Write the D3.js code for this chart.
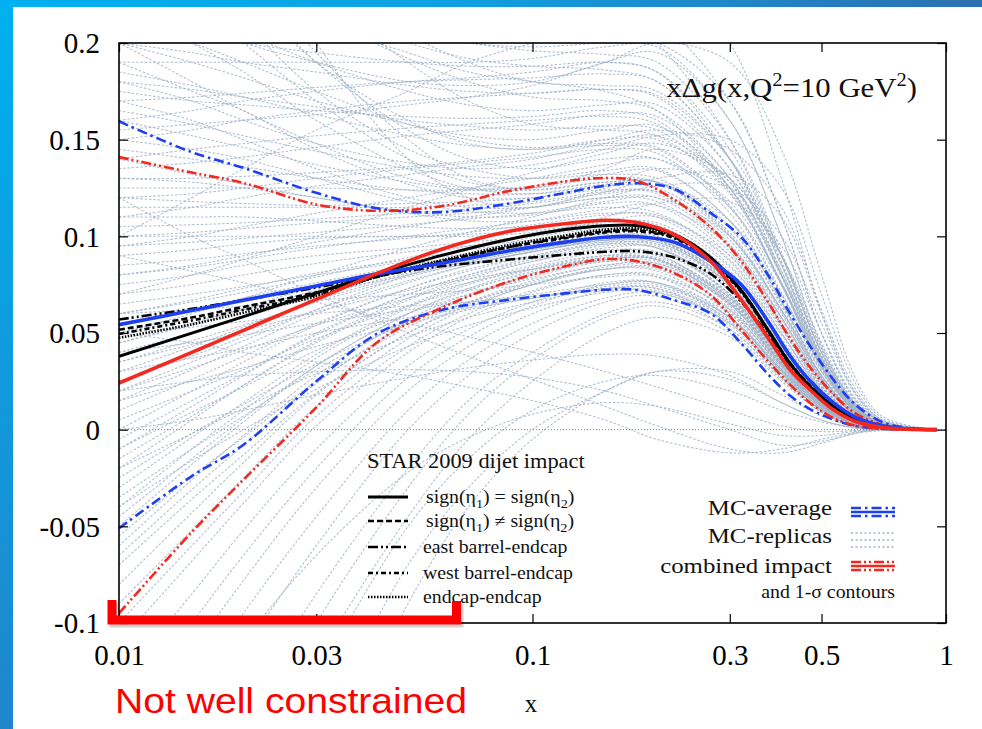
<!DOCTYPE html>
<html><head><meta charset="utf-8">
<script src="https://cdn.jsdelivr.net/npm/d3@7"></script>
<style>body{margin:0;background:#fff;overflow:hidden}svg{display:block}</style>
</head><body>
<svg id="c" width="982" height="729"></svg>
<script>
// ---------------- DATA ----------------
const xGrid = [0.01, 0.015, 0.02, 0.03, 0.042, 0.06, 0.088, 0.12, 0.15, 0.18, 0.22, 0.27, 0.32, 0.37, 0.42, 0.47, 0.53, 0.6, 0.7, 0.8, 0.95];
const combinedImpact = [0.0241, 0.040, 0.0514, 0.0674, 0.0807, 0.0932, 0.1026, 0.1065, 0.1083, 0.107, 0.101, 0.087, 0.067, 0.048, 0.031, 0.0205, 0.0108, 0.0045, 0.0012, 0.0003, 0];
const combinedUpper  = [0.141, 0.133, 0.1276, 0.1165, 0.1132, 0.1155, 0.1235, 0.1284, 0.1302, 0.1285, 0.119, 0.1045, 0.087, 0.0665, 0.047, 0.032, 0.019, 0.0088, 0.0025, 0.0006, 0];
const combinedLower  = [-0.095, -0.053, -0.0259, 0.0115, 0.045, 0.0628, 0.0767, 0.0845, 0.0882, 0.087, 0.081, 0.0695, 0.0515, 0.0357, 0.0232, 0.0137, 0.0064, 0.0022, 0.0005, 0.0001, 0];
const mcAverage      = [0.0543, 0.0616, 0.0669, 0.0743, 0.0805, 0.086, 0.0925, 0.097, 0.0995, 0.0998, 0.097, 0.087, 0.075, 0.0565, 0.038, 0.025, 0.0145, 0.0068, 0.002, 0.0005, 0];
const mcUpper        = [0.1595, 0.1435, 0.1354, 0.1225, 0.1145, 0.1125, 0.117, 0.1225, 0.1262, 0.1275, 0.1245, 0.112, 0.0995, 0.0805, 0.060, 0.043, 0.0268, 0.0135, 0.004, 0.001, 0];
const mcLower        = [-0.051, -0.024, -0.0078, 0.025, 0.0495, 0.0618, 0.0672, 0.0705, 0.0724, 0.0722, 0.067, 0.060, 0.0445, 0.029, 0.0175, 0.0105, 0.0055, 0.002, 0.0005, 0.0001, 0];
const sameSign       = [0.0379, 0.0499, 0.0585, 0.0707, 0.0805, 0.090, 0.0985, 0.1035, 0.1055, 0.1055, 0.101, 0.089, 0.072, 0.052, 0.034, 0.022, 0.0125, 0.0055, 0.0015, 0.0004, 0];
const oppositeSign   = [0.0517, 0.058, 0.0635, 0.071, 0.079, 0.0865, 0.0945, 0.0995, 0.1025, 0.103, 0.0995, 0.088, 0.0715, 0.052, 0.0345, 0.0225, 0.0128, 0.0057, 0.0016, 0.0004, 0];
const eastBarrelEndcap = [0.057, 0.0625, 0.067, 0.0735, 0.0795, 0.0845, 0.088, 0.0905, 0.092, 0.0922, 0.089, 0.0805, 0.066, 0.0495, 0.0335, 0.022, 0.0125, 0.0055, 0.0015, 0.0004, 0];
const westBarrelEndcap = [0.0495, 0.0565, 0.062, 0.0698, 0.0792, 0.087, 0.0945, 0.099, 0.102, 0.1025, 0.099, 0.0875, 0.071, 0.0515, 0.034, 0.0222, 0.0126, 0.0056, 0.0015, 0.0004, 0];
const endcapEndcap   = [0.0475, 0.0545, 0.0605, 0.069, 0.079, 0.0875, 0.0955, 0.1005, 0.1035, 0.104, 0.1, 0.0885, 0.072, 0.052, 0.0343, 0.0224, 0.0127, 0.0056, 0.0015, 0.0004, 0];

const replicaX = [0.01, 0.015, 0.02, 0.03, 0.05, 0.07, 0.1, 0.15, 0.2, 0.3, 0.4, 0.5, 0.6, 0.7, 0.95];
const replicas = [
  [0.30, 0.26, 0.23, 0.19, 0.155, 0.14, 0.135, 0.14, 0.14, 0.115, 0.075, 0.035, 0.012, 0.003, 0],
  [0.26, 0.23, 0.21, 0.175, 0.145, 0.135, 0.13, 0.132, 0.13, 0.105, 0.065, 0.03, 0.01, 0.002, 0],
  [0.22, 0.20, 0.185, 0.16, 0.135, 0.125, 0.122, 0.126, 0.125, 0.1, 0.062, 0.028, 0.009, 0.002, 0],
  [0.19, 0.175, 0.165, 0.145, 0.127, 0.12, 0.12, 0.124, 0.122, 0.095, 0.058, 0.025, 0.008, 0.002, 0],
  [0.17, 0.16, 0.15, 0.135, 0.12, 0.115, 0.115, 0.12, 0.118, 0.092, 0.054, 0.022, 0.007, 0.0015, 0],
  [0.35, 0.30, 0.26, 0.20, 0.14, 0.12, 0.115, 0.125, 0.135, 0.125, 0.09, 0.045, 0.015, 0.004, 0],
  [0.24, 0.22, 0.20, 0.17, 0.14, 0.128, 0.125, 0.135, 0.145, 0.13, 0.09, 0.042, 0.014, 0.003, 0],
  [0.15, 0.145, 0.14, 0.13, 0.118, 0.113, 0.112, 0.115, 0.112, 0.088, 0.052, 0.021, 0.006, 0.0015, 0],
  [0.13, 0.128, 0.125, 0.12, 0.112, 0.108, 0.108, 0.112, 0.11, 0.085, 0.05, 0.02, 0.006, 0.001, 0],
  [0.11, 0.11, 0.11, 0.108, 0.105, 0.104, 0.105, 0.108, 0.106, 0.082, 0.047, 0.019, 0.005, 0.001, 0],
  [0.09, 0.093, 0.096, 0.099, 0.1, 0.101, 0.103, 0.106, 0.104, 0.08, 0.045, 0.018, 0.005, 0.001, 0],
  [0.075, 0.08, 0.085, 0.09, 0.094, 0.097, 0.1, 0.104, 0.102, 0.078, 0.043, 0.017, 0.005, 0.001, 0],
  [0.06, 0.067, 0.073, 0.081, 0.088, 0.093, 0.097, 0.101, 0.099, 0.075, 0.041, 0.016, 0.004, 0.001, 0],
  [0.045, 0.055, 0.063, 0.074, 0.085, 0.09, 0.095, 0.1, 0.098, 0.074, 0.04, 0.016, 0.004, 0.001, 0],
  [0.03, 0.043, 0.053, 0.067, 0.08, 0.087, 0.093, 0.098, 0.096, 0.072, 0.039, 0.015, 0.004, 0.001, 0],
  [0.015, 0.031, 0.043, 0.06, 0.076, 0.085, 0.092, 0.097, 0.095, 0.07, 0.037, 0.014, 0.004, 0.001, 0],
  [0.0, 0.02, 0.035, 0.054, 0.073, 0.083, 0.09, 0.096, 0.094, 0.069, 0.036, 0.014, 0.004, 0.001, 0],
  [-0.02, 0.005, 0.023, 0.046, 0.068, 0.079, 0.087, 0.093, 0.091, 0.066, 0.034, 0.013, 0.003, 0.001, 0],
  [-0.04, -0.01, 0.01, 0.037, 0.063, 0.075, 0.084, 0.09, 0.088, 0.064, 0.033, 0.012, 0.003, 0.0005, 0],
  [-0.06, -0.026, -0.003, 0.028, 0.057, 0.07, 0.08, 0.087, 0.085, 0.062, 0.032, 0.012, 0.003, 0.0005, 0],
  [-0.08, -0.043, -0.017, 0.018, 0.05, 0.065, 0.076, 0.083, 0.082, 0.06, 0.031, 0.011, 0.003, 0.0005, 0],
  [-0.10, -0.06, -0.032, 0.007, 0.043, 0.06, 0.072, 0.08, 0.079, 0.058, 0.03, 0.011, 0.003, 0.0005, 0],
  [-0.13, -0.085, -0.052, -0.01, 0.033, 0.052, 0.066, 0.076, 0.076, 0.056, 0.029, 0.01, 0.003, 0.0005, 0],
  [-0.17, -0.115, -0.078, -0.03, 0.02, 0.043, 0.06, 0.072, 0.073, 0.054, 0.028, 0.01, 0.002, 0.0005, 0],
  [-0.22, -0.16, -0.115, -0.06, 0.0, 0.028, 0.05, 0.066, 0.069, 0.052, 0.027, 0.01, 0.002, 0.0005, 0],
  [-0.30, -0.22, -0.17, -0.10, -0.03, 0.008, 0.036, 0.058, 0.064, 0.05, 0.026, 0.009, 0.002, 0.0005, 0],
  [-0.40, -0.30, -0.24, -0.16, -0.07, -0.03, 0.0, 0.02, 0.03, 0.03, 0.018, 0.007, 0.002, 0, 0],
  [-0.35, -0.27, -0.21, -0.13, -0.05, -0.015, 0.01, 0.025, 0.028, 0.02, 0.01, 0.004, 0.001, 0, 0],
  [0.05, 0.045, 0.04, 0.035, 0.028, 0.022, 0.015, 0.005, -0.005, -0.012, -0.01, -0.005, -0.0015, 0, 0],
  [0.12, 0.10, 0.088, 0.07, 0.05, 0.038, 0.026, 0.012, 0.002, -0.01, -0.012, -0.007, -0.002, -0.0005, 0],
  [0.02, 0.025, 0.028, 0.03, 0.031, 0.03, 0.027, 0.02, 0.012, 0.0, -0.008, -0.006, -0.002, 0, 0],
  [0.20, 0.21, 0.22, 0.23, 0.235, 0.235, 0.23, 0.22, 0.20, 0.15, 0.09, 0.04, 0.013, 0.003, 0],
  [0.10, 0.12, 0.135, 0.155, 0.175, 0.19, 0.20, 0.21, 0.21, 0.17, 0.11, 0.05, 0.016, 0.004, 0],
  [0.40, 0.36, 0.33, 0.29, 0.25, 0.235, 0.23, 0.235, 0.24, 0.20, 0.13, 0.06, 0.02, 0.005, 0],
  [0.16, 0.165, 0.17, 0.175, 0.18, 0.182, 0.185, 0.19, 0.185, 0.14, 0.08, 0.035, 0.011, 0.003, 0],
  [0.25, 0.235, 0.225, 0.21, 0.195, 0.185, 0.18, 0.175, 0.165, 0.125, 0.075, 0.032, 0.01, 0.002, 0],
  [0.20, 0.18, 0.165, 0.148, 0.13, 0.125, 0.125, 0.13, 0.128, 0.10, 0.06, 0.026, 0.008, 0.002, 0],
  [0.14, 0.132, 0.127, 0.12, 0.113, 0.11, 0.111, 0.117, 0.116, 0.09, 0.053, 0.021, 0.006, 0.0015, 0],
  [0.10, 0.10, 0.10, 0.10, 0.10, 0.10, 0.102, 0.107, 0.107, 0.084, 0.049, 0.02, 0.006, 0.001, 0],
  [0.07, 0.075, 0.08, 0.086, 0.092, 0.095, 0.098, 0.103, 0.103, 0.08, 0.046, 0.018, 0.005, 0.001, 0],
  [-0.01, 0.012, 0.028, 0.05, 0.07, 0.08, 0.088, 0.095, 0.094, 0.07, 0.037, 0.014, 0.004, 0.001, 0],
  [-0.05, -0.018, 0.004, 0.033, 0.06, 0.072, 0.082, 0.089, 0.088, 0.065, 0.034, 0.013, 0.003, 0.0005, 0],
  [0.28, 0.25, 0.225, 0.19, 0.16, 0.148, 0.145, 0.15, 0.15, 0.125, 0.08, 0.038, 0.012, 0.003, 0],
  [0.32, 0.27, 0.24, 0.195, 0.15, 0.13, 0.124, 0.128, 0.128, 0.108, 0.07, 0.033, 0.011, 0.003, 0],
  [0.18, 0.17, 0.16, 0.148, 0.138, 0.135, 0.137, 0.145, 0.152, 0.15, 0.125, 0.07, 0.025, 0.006, 0],
  [0.08, 0.085, 0.09, 0.097, 0.105, 0.11, 0.115, 0.123, 0.13, 0.132, 0.11, 0.06, 0.02, 0.005, 0],
  [0.02, 0.035, 0.046, 0.062, 0.08, 0.09, 0.10, 0.11, 0.117, 0.118, 0.095, 0.05, 0.017, 0.004, 0],
  [0.22, 0.21, 0.20, 0.19, 0.18, 0.178, 0.18, 0.19, 0.20, 0.19, 0.145, 0.08, 0.028, 0.007, 0],
  [0.065, 0.07, 0.074, 0.08, 0.087, 0.091, 0.095, 0.099, 0.098, 0.077, 0.043, 0.017, 0.005, 0.001, 0],
  [0.055, 0.062, 0.068, 0.076, 0.085, 0.09, 0.095, 0.1, 0.1, 0.078, 0.044, 0.018, 0.005, 0.001, 0],
  [0.04, 0.05, 0.058, 0.069, 0.081, 0.087, 0.093, 0.099, 0.099, 0.077, 0.043, 0.017, 0.005, 0.001, 0],
  [0.035, 0.046, 0.054, 0.066, 0.079, 0.086, 0.092, 0.098, 0.097, 0.075, 0.041, 0.016, 0.004, 0.001, 0],
  [0.025, 0.038, 0.048, 0.062, 0.077, 0.085, 0.092, 0.098, 0.098, 0.076, 0.042, 0.016, 0.004, 0.001, 0],
  [0.01, 0.026, 0.038, 0.055, 0.073, 0.082, 0.09, 0.097, 0.097, 0.075, 0.041, 0.016, 0.004, 0.001, 0],
  [-0.005, 0.015, 0.029, 0.049, 0.07, 0.08, 0.089, 0.096, 0.096, 0.074, 0.04, 0.015, 0.004, 0.001, 0],
  [-0.015, 0.007, 0.023, 0.045, 0.067, 0.078, 0.087, 0.094, 0.094, 0.072, 0.039, 0.015, 0.004, 0.001, 0],
  [-0.03, -0.004, 0.014, 0.039, 0.064, 0.076, 0.085, 0.092, 0.092, 0.07, 0.037, 0.014, 0.004, 0.001, 0],
  [-0.045, -0.015, 0.006, 0.033, 0.06, 0.073, 0.083, 0.09, 0.09, 0.068, 0.036, 0.014, 0.003, 0.001, 0],
  [-0.065, -0.031, -0.008, 0.024, 0.055, 0.069, 0.08, 0.088, 0.088, 0.067, 0.035, 0.013, 0.003, 0.001, 0],
  [0.045, 0.054, 0.062, 0.072, 0.084, 0.09, 0.096, 0.102, 0.103, 0.081, 0.046, 0.018, 0.005, 0.001, 0],
  [0.145, 0.14, 0.136, 0.13, 0.124, 0.122, 0.122, 0.127, 0.128, 0.102, 0.062, 0.026, 0.008, 0.002, 0],
  [0.16, 0.152, 0.146, 0.137, 0.128, 0.124, 0.124, 0.128, 0.128, 0.101, 0.061, 0.026, 0.008, 0.002, 0],
  [0.185, 0.178, 0.172, 0.163, 0.152, 0.147, 0.145, 0.147, 0.145, 0.115, 0.07, 0.03, 0.009, 0.002, 0],
  [0.21, 0.20, 0.19, 0.175, 0.158, 0.15, 0.146, 0.148, 0.146, 0.116, 0.071, 0.031, 0.01, 0.002, 0],
  [0.125, 0.125, 0.125, 0.125, 0.124, 0.124, 0.126, 0.132, 0.134, 0.108, 0.066, 0.028, 0.009, 0.002, 0],
  [0.12, 0.122, 0.125, 0.13, 0.135, 0.138, 0.141, 0.145, 0.143, 0.112, 0.067, 0.028, 0.009, 0.002, 0],
  [0.175, 0.17, 0.168, 0.165, 0.162, 0.161, 0.162, 0.165, 0.16, 0.125, 0.075, 0.032, 0.01, 0.002, 0],
  [0.23, 0.215, 0.205, 0.19, 0.175, 0.168, 0.165, 0.168, 0.168, 0.135, 0.085, 0.037, 0.012, 0.003, 0],
  [0.27, 0.25, 0.235, 0.215, 0.192, 0.18, 0.172, 0.17, 0.165, 0.13, 0.08, 0.035, 0.011, 0.003, 0],
  [0.14, 0.145, 0.148, 0.152, 0.156, 0.158, 0.16, 0.162, 0.158, 0.125, 0.076, 0.033, 0.01, 0.002, 0],
  [0.20, 0.195, 0.19, 0.185, 0.178, 0.175, 0.174, 0.176, 0.173, 0.14, 0.09, 0.04, 0.013, 0.003, 0],
  [0.11, 0.115, 0.12, 0.126, 0.132, 0.136, 0.14, 0.148, 0.152, 0.128, 0.082, 0.036, 0.011, 0.003, 0],
  [0.095, 0.10, 0.105, 0.112, 0.12, 0.125, 0.13, 0.137, 0.14, 0.118, 0.076, 0.033, 0.01, 0.002, 0],
  [0.30, 0.275, 0.255, 0.225, 0.19, 0.17, 0.158, 0.155, 0.152, 0.122, 0.076, 0.033, 0.01, 0.002, 0],
  [0.155, 0.158, 0.16, 0.163, 0.168, 0.172, 0.178, 0.19, 0.195, 0.16, 0.10, 0.044, 0.014, 0.003, 0],
  [0.19, 0.19, 0.19, 0.19, 0.19, 0.19, 0.192, 0.198, 0.198, 0.16, 0.10, 0.043, 0.014, 0.003, 0],
  [0.085, 0.088, 0.091, 0.095, 0.099, 0.102, 0.106, 0.111, 0.111, 0.087, 0.05, 0.02, 0.006, 0.001, 0],
  [0.10, 0.102, 0.104, 0.107, 0.11, 0.112, 0.115, 0.12, 0.12, 0.094, 0.055, 0.022, 0.007, 0.0015, 0],
  [0.115, 0.115, 0.115, 0.115, 0.115, 0.116, 0.118, 0.123, 0.123, 0.096, 0.057, 0.023, 0.007, 0.0015, 0],
  [0.06, 0.062, 0.064, 0.067, 0.07, 0.072, 0.075, 0.079, 0.079, 0.062, 0.034, 0.013, 0.004, 0.001, 0],
  [0.03, 0.037, 0.042, 0.05, 0.058, 0.063, 0.068, 0.073, 0.073, 0.057, 0.031, 0.012, 0.003, 0.0005, 0],
  [0.05, 0.053, 0.056, 0.06, 0.064, 0.066, 0.069, 0.072, 0.071, 0.055, 0.029, 0.011, 0.003, 0.0005, 0],
  [-0.09, -0.052, -0.025, 0.012, 0.047, 0.063, 0.075, 0.083, 0.083, 0.063, 0.033, 0.012, 0.003, 0.0005, 0],
  [-0.11, -0.068, -0.038, 0.002, 0.04, 0.058, 0.071, 0.08, 0.08, 0.061, 0.032, 0.012, 0.003, 0.0005, 0],
  [-0.15, -0.10, -0.065, -0.02, 0.027, 0.048, 0.064, 0.075, 0.076, 0.058, 0.03, 0.011, 0.003, 0.0005, 0],
  [-0.19, -0.135, -0.095, -0.045, 0.01, 0.036, 0.055, 0.068, 0.071, 0.055, 0.029, 0.01, 0.002, 0.0005, 0],
  [-0.26, -0.19, -0.145, -0.085, -0.02, 0.015, 0.04, 0.06, 0.066, 0.052, 0.027, 0.01, 0.002, 0.0005, 0],
  [-0.33, -0.25, -0.195, -0.12, -0.045, -0.005, 0.025, 0.05, 0.058, 0.048, 0.025, 0.009, 0.002, 0, 0],
  [-0.45, -0.35, -0.28, -0.19, -0.09, -0.04, -0.005, 0.02, 0.03, 0.026, 0.014, 0.005, 0.001, 0, 0],
  [0.0, 0.005, 0.01, 0.018, 0.027, 0.032, 0.036, 0.039, 0.038, 0.028, 0.014, 0.005, 0.001, 0, 0],
  [0.09, 0.082, 0.076, 0.066, 0.055, 0.048, 0.04, 0.03, 0.022, 0.01, 0.002, -0.001, -0.0005, 0, 0],
  [-0.20, -0.15, -0.11, -0.065, -0.022, -0.004, 0.008, 0.014, 0.012, 0.003, -0.003, -0.003, -0.001, 0, 0],
  [0.13, 0.13, 0.131, 0.133, 0.136, 0.139, 0.143, 0.15, 0.155, 0.145, 0.115, 0.062, 0.022, 0.005, 0],
  [0.05, 0.06, 0.068, 0.08, 0.094, 0.102, 0.11, 0.12, 0.126, 0.125, 0.10, 0.055, 0.019, 0.004, 0],
  [0.24, 0.23, 0.225, 0.215, 0.205, 0.20, 0.198, 0.20, 0.20, 0.17, 0.11, 0.05, 0.016, 0.004, 0],
  [0.07, 0.08, 0.088, 0.10, 0.115, 0.124, 0.133, 0.143, 0.148, 0.13, 0.09, 0.042, 0.013, 0.003, 0],
  [0.21, 0.205, 0.20, 0.195, 0.19, 0.188, 0.188, 0.19, 0.185, 0.145, 0.09, 0.04, 0.013, 0.003, 0],
  [0.17, 0.172, 0.174, 0.177, 0.18, 0.181, 0.182, 0.184, 0.18, 0.14, 0.086, 0.038, 0.012, 0.003, 0],
  [0.26, 0.245, 0.232, 0.215, 0.20, 0.192, 0.188, 0.186, 0.18, 0.14, 0.085, 0.037, 0.012, 0.003, 0],
  [0.15, 0.155, 0.16, 0.165, 0.17, 0.172, 0.174, 0.176, 0.172, 0.135, 0.082, 0.036, 0.011, 0.003, 0],
  [0.23, 0.225, 0.22, 0.213, 0.205, 0.20, 0.196, 0.194, 0.19, 0.15, 0.092, 0.04, 0.013, 0.003, 0],
  [0.33, 0.30, 0.275, 0.24, 0.205, 0.19, 0.18, 0.178, 0.175, 0.14, 0.087, 0.038, 0.012, 0.003, 0],
  [0.135, 0.138, 0.141, 0.146, 0.152, 0.155, 0.158, 0.163, 0.162, 0.13, 0.08, 0.035, 0.011, 0.002, 0],
  [0.18, 0.176, 0.172, 0.167, 0.16, 0.157, 0.155, 0.157, 0.155, 0.123, 0.075, 0.032, 0.01, 0.002, 0],
  [0.20, 0.19, 0.182, 0.17, 0.158, 0.152, 0.15, 0.155, 0.157, 0.128, 0.079, 0.034, 0.011, 0.002, 0],
  [0.12, 0.118, 0.117, 0.116, 0.117, 0.118, 0.12, 0.126, 0.128, 0.104, 0.064, 0.027, 0.008, 0.002, 0],
  [0.105, 0.106, 0.107, 0.109, 0.112, 0.114, 0.117, 0.122, 0.123, 0.098, 0.058, 0.024, 0.007, 0.0015, 0],
  [0.165, 0.158, 0.152, 0.144, 0.135, 0.131, 0.13, 0.134, 0.135, 0.108, 0.066, 0.028, 0.009, 0.002, 0],
  [0.035, 0.044, 0.051, 0.061, 0.072, 0.078, 0.083, 0.088, 0.088, 0.068, 0.037, 0.014, 0.004, 0.001, 0],
  [0.02, 0.032, 0.041, 0.054, 0.068, 0.076, 0.083, 0.089, 0.089, 0.069, 0.037, 0.014, 0.004, 0.001, 0],
  [0.005, 0.02, 0.031, 0.047, 0.064, 0.073, 0.081, 0.088, 0.088, 0.068, 0.036, 0.014, 0.004, 0.001, 0],
  [-0.01, 0.009, 0.022, 0.041, 0.06, 0.07, 0.078, 0.085, 0.086, 0.066, 0.035, 0.013, 0.003, 0.001, 0],
  [-0.025, -0.002, 0.013, 0.034, 0.055, 0.066, 0.075, 0.083, 0.084, 0.065, 0.034, 0.013, 0.003, 0.001, 0],
  [-0.035, -0.01, 0.007, 0.031, 0.056, 0.069, 0.079, 0.087, 0.087, 0.067, 0.035, 0.013, 0.003, 0.001, 0],
  [-0.055, -0.024, -0.004, 0.025, 0.053, 0.066, 0.077, 0.085, 0.086, 0.066, 0.035, 0.013, 0.003, 0.001, 0],
  [-0.07, -0.036, -0.013, 0.019, 0.05, 0.064, 0.075, 0.084, 0.085, 0.065, 0.034, 0.013, 0.003, 0.0005, 0],
  [0.05, 0.057, 0.062, 0.07, 0.08, 0.086, 0.092, 0.098, 0.098, 0.077, 0.043, 0.017, 0.005, 0.001, 0],
  [0.015, 0.025, 0.032, 0.043, 0.055, 0.062, 0.068, 0.074, 0.075, 0.058, 0.031, 0.012, 0.003, 0.0005, 0],
  [-0.02, -0.002, 0.011, 0.029, 0.048, 0.058, 0.066, 0.073, 0.074, 0.058, 0.031, 0.012, 0.003, 0.0005, 0],
  [-0.04, -0.016, 0.0, 0.021, 0.043, 0.054, 0.063, 0.071, 0.072, 0.056, 0.03, 0.011, 0.003, 0.0005, 0],
  [0.08, 0.084, 0.088, 0.094, 0.10, 0.104, 0.108, 0.114, 0.116, 0.095, 0.058, 0.025, 0.008, 0.002, 0],
  [0.06, 0.066, 0.071, 0.079, 0.089, 0.095, 0.101, 0.108, 0.11, 0.09, 0.055, 0.023, 0.007, 0.0015, 0],
  [0.095, 0.097, 0.099, 0.102, 0.106, 0.109, 0.112, 0.118, 0.12, 0.10, 0.062, 0.027, 0.008, 0.002, 0],
  [0.04, 0.045, 0.049, 0.055, 0.062, 0.066, 0.07, 0.075, 0.076, 0.06, 0.033, 0.013, 0.004, 0.001, 0]
];

const xTicks = [0.01, 0.03, 0.1, 0.3, 0.5, 1];
const xTickLabels = ["0.01", "0.03", "0.1", "0.3", "0.5", "1"];
const yTicks = [-0.1, -0.05, 0, 0.05, 0.1, 0.15, 0.2];
const yTickLabels = ["-0.1", "-0.05", "0", "0.05", "0.1", "0.15", "0.2"];

const starLegend = ["sign(η1) = sign(η2)", "sign(η1) ≠ sign(η2)", "east barrel-endcap", "west barrel-endcap", "endcap-endcap"];
const mcLegend = ["MC-average", "MC-replicas", "combined impact"];

// ---------------- DRAW ----------------
const svg = d3.select("#c");
const W = 982, H = 729;
const L = 119, R = 946, T = 43, B = 623;
const BLUE = "#1d3ff2", RED = "#f4281e", REP = "#a0b1c7";
const serif = "'Liberation Serif','Times New Roman',serif";

const defs = svg.append("defs");
const g1 = defs.append("linearGradient").attr("id", "topbar").attr("x1", 0).attr("x2", 1).attr("y1", 0).attr("y2", 0);
g1.append("stop").attr("offset", 0).attr("stop-color", "#00b0f0");
g1.append("stop").attr("offset", 0.45).attr("stop-color", "#0ea1e2");
g1.append("stop").attr("offset", 1).attr("stop-color", "#2d70b0");
const g2 = defs.append("linearGradient").attr("id", "leftbar").attr("x1", 0).attr("x2", 0).attr("y1", 0).attr("y2", 1);
g2.append("stop").attr("offset", 0).attr("stop-color", "#00b0f0");
g2.append("stop").attr("offset", 1).attr("stop-color", "#1f86cc");
defs.append("clipPath").attr("id", "plotclip").append("rect")
  .attr("x", L).attr("y", T).attr("width", R - L).attr("height", B - T);

svg.append("rect").attr("width", W).attr("height", H).attr("fill", "#fff");
svg.append("rect").attr("x", 0).attr("y", 0).attr("width", W).attr("height", 7).attr("fill", "url(#topbar)");
svg.append("rect").attr("x", 0).attr("y", 0).attr("width", 13).attr("height", H).attr("fill", "url(#leftbar)");

const x = d3.scaleLog().domain([0.01, 1]).range([L, R]);
const y = d3.scaleLinear().domain([-0.1, 0.2]).range([B, T]);

const plot = svg.append("g").attr("clip-path", "url(#plotclip)");
const smooth = d3.curveCatmullRom.alpha(0.5);

// replicas
const repLine = d3.line().x((d, i) => x(replicaX[i])).y(d => y(d)).curve(smooth);
plot.append("g").selectAll("path").data(replicas).join("path")
  .attr("d", repLine).attr("fill", "none").attr("stroke", REP)
  .attr("stroke-width", 1.05).attr("stroke-dasharray", "2.5,1.8").attr("opacity", 0.85);

// zero line
plot.append("line").attr("x1", x(0.01)).attr("x2", x(1)).attr("y1", y(0)).attr("y2", y(0))
  .attr("stroke", "#777").attr("stroke-width", 0.9).attr("stroke-dasharray", "1,2");

const styles = {
  mcBand:   {stroke: BLUE, w: 2.6, dash: "10,4,2.5,4"},
  combBand: {stroke: RED, w: 2.6, dash: "10,3,2,3,2,3"},
  same:     {stroke: "#000", w: 3, dash: null},
  opp:      {stroke: "#000", w: 2.6, dash: "6,3"},
  east:     {stroke: "#000", w: 2.6, dash: "10,3,2,3,2,3"},
  west:     {stroke: "#000", w: 2.6, dash: "5,3,2,3"},
  endcap:   {stroke: "#000", w: 2.6, dash: "1.5,1.5"},
  mcAvg:    {stroke: BLUE, w: 3.6, dash: null},
  comb:     {stroke: RED, w: 3.6, dash: null},
  rep:      {stroke: REP, w: 1.6, dash: "2,2.5"}
};
const mainLine = d3.line().x((d, i) => x(xGrid[i])).y(d => y(d)).curve(smooth);
function drawSeries(vals, st) {
  plot.append("path").attr("d", mainLine(vals)).attr("fill", "none")
    .attr("stroke", st.stroke).attr("stroke-width", st.w)
    .attr("stroke-dasharray", st.dash).attr("stroke-linejoin", "round");
}
drawSeries(mcUpper, styles.mcBand);
drawSeries(mcLower, styles.mcBand);
drawSeries(combinedUpper, styles.combBand);
drawSeries(combinedLower, styles.combBand);
drawSeries(eastBarrelEndcap, styles.east);
drawSeries(westBarrelEndcap, styles.west);
drawSeries(endcapEndcap, styles.endcap);
drawSeries(oppositeSign, styles.opp);
drawSeries(sameSign, styles.same);
drawSeries(mcAverage, styles.mcAvg);
drawSeries(combinedImpact, styles.comb);

// axes (ticks inward, mirrored)
const axB = svg.append("g").attr("transform", `translate(0,${B})`)
  .call(d3.axisBottom(x).tickValues(xTicks).tickSizeInner(-9).tickSizeOuter(0).tickFormat((d, i) => xTickLabels[i]));
const axT = svg.append("g").attr("transform", `translate(0,${T})`)
  .call(d3.axisTop(x).tickValues(xTicks).tickSizeInner(-9).tickSizeOuter(0).tickFormat(""));
const axL = svg.append("g").attr("transform", `translate(${L},0)`)
  .call(d3.axisLeft(y).tickValues(yTicks).tickSizeInner(-9).tickSizeOuter(0).tickFormat((d, i) => yTickLabels[i]));
const axR = svg.append("g").attr("transform", `translate(${R},0)`)
  .call(d3.axisRight(y).tickValues(yTicks).tickSizeInner(-9).tickSizeOuter(0).tickFormat(""));
[axB, axT, axL, axR].forEach(a => {
  a.select(".domain").remove();
  a.selectAll("line").attr("stroke", "#000").attr("stroke-width", 1.2);
  a.selectAll("text").attr("fill", "#000").attr("font-family", serif).attr("font-size", 29);
});
axB.selectAll("text").attr("y", 42).attr("dy", null);
axL.selectAll("text").attr("x", -19).attr("dy", "0.34em");

// frame
svg.append("rect").attr("x", L).attr("y", T).attr("width", R - L).attr("height", B - T)
  .attr("fill", "none").attr("stroke", "#000").attr("stroke-width", 1.6);

// title
const tt = svg.append("g").attr("transform", "translate(917,97) scale(1.14,1)")
  .append("text").attr("text-anchor", "end").attr("font-family", serif).attr("font-size", 27).attr("fill", "#111");
tt.append("tspan").text("xΔg(x,Q");
tt.append("tspan").attr("dy", -11).attr("font-size", 18).text("2");
tt.append("tspan").attr("dy", 11).text("=10 GeV");
tt.append("tspan").attr("dy", -11).attr("font-size", 18).text("2");
tt.append("tspan").attr("dy", 11).text(")");

// x axis label
svg.append("text").attr("x", 531).attr("y", 712).attr("text-anchor", "middle")
  .attr("font-family", serif).attr("font-size", 25).attr("fill", "#111").text("x");

// STAR legend
svg.append("g").attr("transform", "translate(367,468) scale(1.12,1)")
  .append("text").attr("font-family", serif).attr("font-size", 20).attr("fill", "#111").text("STAR 2009 dijet impact");
const starStyles = [styles.same, styles.opp, styles.east, styles.west, styles.endcap];
const starY = [497, 521, 547, 573, 597];
const starTx = [426, 426, 423, 423, 423];
starLegend.forEach((lab, i) => {
  const st = starStyles[i];
  svg.append("line").attr("x1", 368).attr("x2", 408).attr("y1", starY[i]).attr("y2", starY[i])
    .attr("stroke", st.stroke).attr("stroke-width", st.w).attr("stroke-dasharray", st.dash);
  const t = svg.append("g").attr("transform", `translate(${starTx[i]},${starY[i] + 6}) scale(1.1,1)`)
    .append("text").attr("font-family", serif).attr("font-size", 18).attr("fill", "#111");
  const m = lab.match(/^sign\(η1\) (.) sign\(η2\)$/);
  if (m) {
    t.append("tspan").text("sign(η");
    t.append("tspan").attr("dy", 5).attr("font-size", 13).text("1");
    t.append("tspan").attr("dy", -5).text(") " + m[1] + " sign(η");
    t.append("tspan").attr("dy", 5).attr("font-size", 13).text("2");
    t.append("tspan").attr("dy", -5).text(")");
  } else {
    t.text(lab);
  }
});

// MC legend
const mcY = [515, 543, 573];
const mcSampleStyles = [[styles.mcBand, styles.mcAvg, styles.mcBand], [styles.rep, styles.rep, styles.rep], [styles.combBand, styles.comb, styles.combBand]];
const mcSampleDy = [[-7, -3, 1], [-10, -3, 4], [-11, -7, -3]];
mcLegend.forEach((lab, i) => {
  svg.append("g").attr("transform", `translate(832,${mcY[i]}) scale(1.13,1)`)
    .append("text").attr("text-anchor", "end").attr("font-family", serif).attr("font-size", 22).attr("fill", "#111").text(lab);
  mcSampleStyles[i].forEach((st, k) => {
    svg.append("line").attr("x1", 851).attr("x2", 895)
      .attr("y1", mcY[i] + mcSampleDy[i][k]).attr("y2", mcY[i] + mcSampleDy[i][k])
      .attr("stroke", st.stroke).attr("stroke-width", Math.min(st.w, 2.6)).attr("stroke-dasharray", st.dash);
  });
});
svg.append("g").attr("transform", "translate(895,598) scale(1.1,1)")
  .append("text").attr("text-anchor", "end").attr("font-family", serif).attr("font-size", 18).attr("fill", "#111").text("and 1-σ contours");

// red bracket annotation
svg.append("path").attr("d", "M114,603 V623 H459 V604").attr("fill", "none")
  .attr("stroke", "#000").attr("stroke-opacity", 0.18).attr("stroke-width", 9);
svg.append("path").attr("d", "M112,600 V620 H456.5 V601").attr("fill", "none")
  .attr("stroke", "#ff0000").attr("stroke-width", 9).attr("stroke-linejoin", "miter");
svg.append("text").attr("x", 115).attr("y", 713)
  .attr("font-family", "'Liberation Sans','Noto Sans',Arial,sans-serif").attr("font-size", 35)
  .attr("fill", "#ff0000").attr("textLength", 352).attr("lengthAdjust", "spacingAndGlyphs").text("Not well constrained");
</script>
</body></html>
